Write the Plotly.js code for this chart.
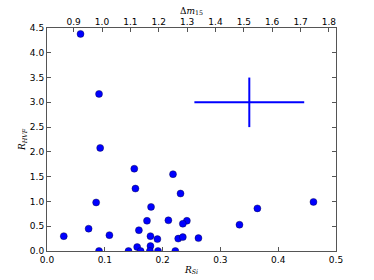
<!DOCTYPE html>
<html>
<head>
<meta charset="utf-8">
<script src="https://cdn.plot.ly/plotly-3.0.1.min.js"></script>
<style>html,body{margin:0;padding:0;background:#fff;}#chart{width:374px;height:280px;}</style>
</head>
<body>
<div id="chart"></div>
<script>
// R_Si vs R_HVF sample values
var rSi = [0.058, 0.090, 0.092, 0.151, 0.153, 0.218, 0.231, 0.085, 0.180, 0.461,
           0.364, 0.173, 0.210, 0.242, 0.235, 0.333, 0.072, 0.159, 0.029, 0.108,
           0.179, 0.191, 0.227, 0.235, 0.262, 0.156, 0.179, 0.090, 0.141, 0.162,
           0.178, 0.192, 0.222];
var rHVF = [4.38, 3.17, 2.08, 1.66, 1.26, 1.55, 1.16, 0.98, 0.89, 0.99,
            0.86, 0.61, 0.62, 0.61, 0.55, 0.53, 0.45, 0.42, 0.30, 0.32,
            0.30, 0.24, 0.25, 0.28, 0.26, 0.08, 0.10, 0.0, 0.0, 0.0,
            0.0, 0.0, 0.0];
// typical error cross
var errX = [0.35], errY = [3.0];
var errXSize = 0.095, errYSize = 0.5;
// axis ranges / ticks
var xRange = [0, 0.5], yRange = [0, 4.5];
var dm15Range = [0.806, 1.825];

var tickFont = {family: 'DejaVu Sans', size: 9, color: '#000'};
var titleFont = {family: 'DejaVu Serif', size: 9, color: '#000'};

var traces = [
  {x: rSi, y: rHVF, mode: 'markers', type: 'scatter',
   marker: {color: '#0000ff', size: 7, line: {color: '#000033', width: 0.4}},
   hoverinfo: 'none'},
  {x: errX, y: errY, mode: 'markers', type: 'scatter',
   marker: {size: 0.1, opacity: 0},
   error_x: {type: 'constant', value: errXSize, width: 0, thickness: 2, color: '#0000ff'},
   error_y: {type: 'constant', value: errYSize, width: 0, thickness: 2, color: '#0000ff'},
   hoverinfo: 'none'},
  {x: dm15Range, y: [null, null], xaxis: 'x2', yaxis: 'y', mode: 'markers', type: 'scatter', hoverinfo: 'none'}
];

var layout = {
  width: 374, height: 280,
  margin: {l: 47, r: 38, t: 28, b: 29},
  paper_bgcolor: '#fff', plot_bgcolor: '#fff',
  showlegend: false,
  xaxis: {range: xRange, dtick: 0.1, tick0: 0, tickformat: '.1f',
          showgrid: false, zeroline: false, showline: true, mirror: true,
          linecolor: '#555', linewidth: 1, ticks: 'inside', ticklen: 4, tickcolor: '#555',
          tickfont: tickFont,
          title: {text: '<i>R</i><sub><i>Si</i></sub>', font: titleFont, standoff: 2}},
  xaxis2: {range: dm15Range, overlaying: 'x', side: 'top', anchor: 'y', dtick: 0.1, tick0: 0.9,
           tickformat: '.1f', showgrid: false, zeroline: false, showline: false,
           ticks: 'inside', ticklen: 4, tickcolor: '#555', tickfont: tickFont,
           title: {text: 'Δ<i>m</i><sub>15</sub>', font: titleFont, standoff: 1}},
  yaxis: {range: yRange, dtick: 0.5, tick0: 0, tickformat: '.1f',
          showgrid: false, zeroline: false, showline: true, mirror: 'ticks',
          linecolor: '#555', linewidth: 1, ticks: 'inside', ticklen: 4, tickcolor: '#555',
          tickfont: tickFont,
          title: {text: '<i>R</i><sub><i>HVF</i></sub>', font: titleFont, standoff: 2}}
};

Plotly.newPlot('chart', traces, layout, {staticPlot: true, displayModeBar: false});
</script>
</body>
</html>
